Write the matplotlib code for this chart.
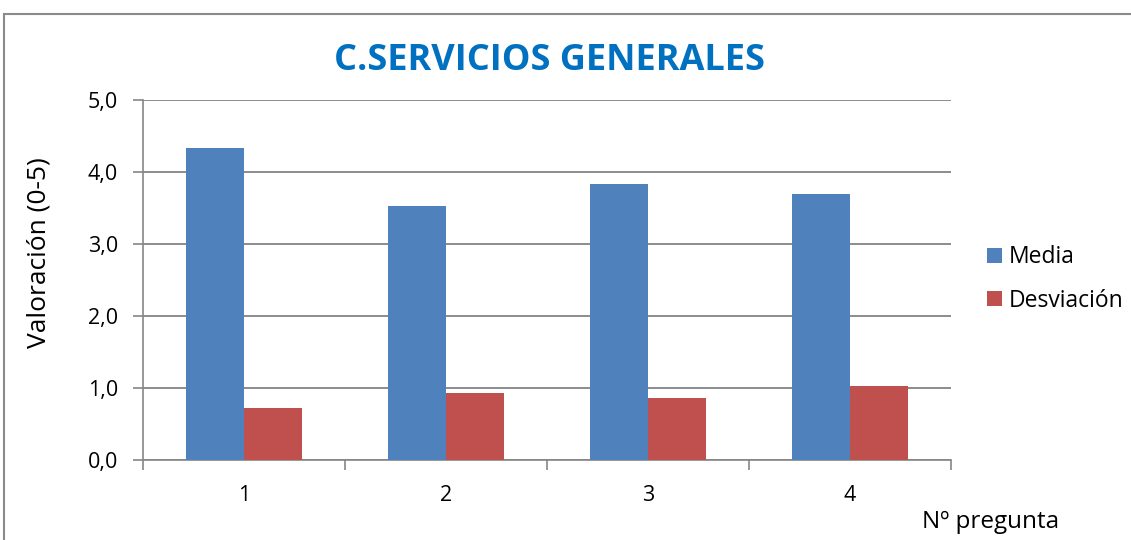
import matplotlib
matplotlib.use("Agg")
import matplotlib.pyplot as plt
import numpy as np
from matplotlib.patches import Rectangle
from matplotlib.ticker import FuncFormatter

categories = ["1", "2", "3", "4"]
media = [4.33, 3.53, 3.83, 3.70]
desviacion = [0.72, 0.93, 0.86, 1.03]
series_names = ["Media", "Desviación"]
title = "C.SERVICIOS GENERALES"
ylabel = "Valoración (0-5)"
xlabel = "Nº pregunta"

plt.rcParams['font.family'] = ['Open Sans', 'DejaVu Sans']

W, H = 1131, 540
fig = plt.figure(figsize=(W / 100, H / 100), dpi=100)
fig.patch.set_facecolor("white")

# outer frame
fig.patches.append(Rectangle((4 / W, -0.1), 1.2, (H - 14) / H + 0.1, transform=fig.transFigure,
                             fill=False, edgecolor="#8a8a8a", linewidth=1.5, zorder=0))

ax = fig.add_axes([143 / W, 1 - 460 / H, (951 - 143) / W, (460 - 100) / H])
x = np.arange(len(categories))
bw = 0.285
blue = "#4F81BD"
red = "#C0504D"
ax.bar(x - bw / 2, media, bw, color=blue, label=series_names[0], zorder=3)
ax.bar(x + bw / 2, desviacion, bw, color=red, label=series_names[1], zorder=3)

ax.set_xlim(-0.5, len(categories) - 0.5)
ax.set_ylim(0, 5)
ax.set_yticks(np.arange(0, 5.01, 1.0))
ax.yaxis.set_major_formatter(FuncFormatter(lambda v, p: f"{v:.1f}".replace(".", ",")))
ax.set_xticks(x)
ax.set_xticklabels(categories)
ax.set_xticks(np.arange(-0.5, len(categories), 1.0), minor=True)
ax.tick_params(axis="x", which="major", length=0, pad=18, labelsize=15.5)
ax.tick_params(axis="x", which="minor", length=7, width=1.2, color="#868686")
ax.tick_params(axis="y", length=7, width=1.2, color="#868686", labelsize=15.5, pad=11)

ax.grid(axis="y", color="#8c8c8c", linewidth=1.4, zorder=0)
for s in ["top", "right"]:
    ax.spines[s].set_visible(False)
for s in ["left", "bottom"]:
    ax.spines[s].set_color("#868686")
    ax.spines[s].set_linewidth(1.2)

fig.text(549 / W, 1 - 61 / H, title, ha="center", va="center", fontsize=26,
         fontweight="bold", color="#0070C0")
fig.text(39 / W, 1 - 253 / H, ylabel, rotation=90, ha="center", va="center", fontsize=19)
fig.text(991 / W, 1 - 522 / H, xlabel, ha="center", va="center", fontsize=17.5)

leg = ax.legend(loc="center left", bbox_to_anchor=(976 / W, 1 - 279 / H),
                bbox_transform=fig.transFigure, frameon=False, fontsize=16.5,
                handlelength=0.65, handleheight=0.65, handletextpad=0.3,
                labelspacing=0.85, borderpad=0)

fig.savefig("out.png", dpi=100)
